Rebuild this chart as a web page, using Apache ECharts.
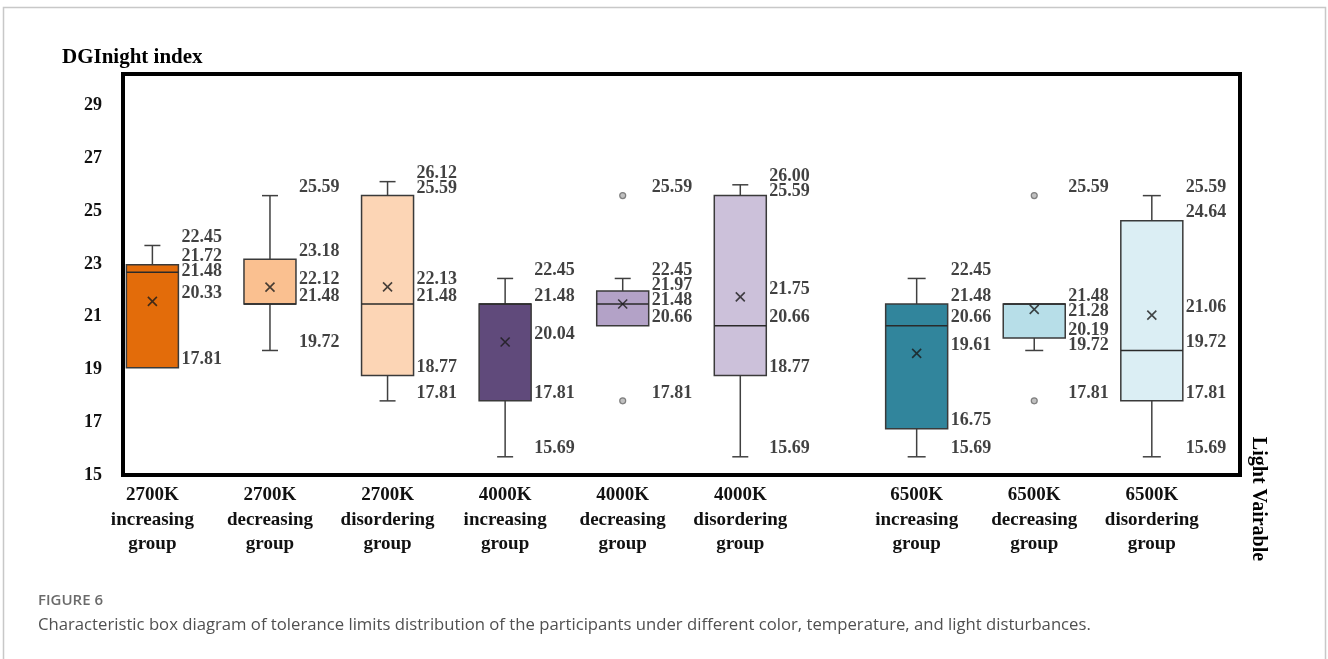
<!DOCTYPE html>
<html>
<head>
<meta charset="utf-8">
<title>DGInight index box diagram</title>
<script src="https://cdn.jsdelivr.net/npm/echarts@6.0.0/dist/echarts.min.js"></script>
<style>
  html, body { margin: 0; padding: 0; background: #fff; }
  #chart { width: 1328px; height: 659px; }
</style>
</head>
<body>
<div id="chart"></div>
<script>
// Groups: colour temperature x sequence order
const colorTemps = ["2700K", "4000K", "6500K"];
const sequences = ["increasing", "decreasing", "disordering"];

// Box statistics as drawn against the y axis
// (the first box is drawn ~1.25 higher than its printed numbers in the source figure)
const boxMin = [19.07, 19.72, 17.81, 15.69, 20.66, 15.69, 15.69, 19.72, 15.69];
const boxQ1 = [19.07, 21.48, 18.77, 17.81, 20.66, 18.77, 16.75, 20.19, 17.81];
const boxMedian = [22.69, 21.48, 21.48, 21.48, 21.48, 20.66, 20.66, 21.48, 19.72];
const boxQ3 = [22.97, 23.18, 25.59, 21.48, 21.97, 25.59, 21.48, 21.48, 24.64];
const boxMax = [23.7, 25.59, 26.12, 22.45, 22.45, 26.0, 22.45, 21.48, 25.59];
const boxMean = [21.58, 22.12, 22.13, 20.04, 21.48, 21.75, 19.61, 21.28, 21.06];
const outliers = [[], [], [], [], [25.59, 17.81], [], [], [25.59, 17.81], []];

// Printed numbers next to each box, top to bottom
const valueLabels = [
  ["22.45", "21.72", "21.48", "20.33", "17.81"],
  ["25.59", "23.18", "22.12", "21.48", "19.72"],
  ["26.12", "25.59", "22.13", "21.48", "18.77", "17.81"],
  ["22.45", "21.48", "20.04", "17.81", "15.69"],
  ["25.59", "22.45", "21.97", "21.48", "20.66", "17.81"],
  ["26.00", "25.59", "21.75", "20.66", "18.77", "15.69"],
  ["22.45", "21.48", "20.66", "19.61", "16.75", "15.69"],
  ["25.59", "21.48", "21.28", "20.19", "19.72", "17.81"],
  ["25.59", "24.64", "21.06", "19.72", "17.81", "15.69"],
];

const boxColors = [
  "#e36c0a", "#fac090", "#fcd5b5",
  "#604a7b", "#b3a2c7", "#ccc1da",
  "#31859c", "#b7dee8", "#dbeef4",
];

const Y_MIN = 15;
const Y_MAX = 30.2;
const GRID = { left: 123, top: 74, right: 88, bottom: 184 };
const GRID_H = 659 - GRID.top - GRID.bottom;
const PX_PER_UNIT = GRID_H / (Y_MAX - Y_MIN);
const SERIF = "'Liberation Serif', 'Times New Roman', serif";

// 19 half-width slots; 6500K groups sit after an empty slot
const SLOT_COUNT = 19;
const slotOf = (i) => 2 * i + (i >= 6 ? 1 : 0);
const boxWidth = (i) => (i >= 6 ? 62 : 52);
const capWidth = (i) => (i >= 6 ? 18 : 16);

const categories = colorTemps.flatMap((t) => sequences.map((s) => `${t}\n${s}\ngroup`));
const slotNames = Array.from({ length: SLOT_COUNT }, () => "");
categories.forEach((c, i) => (slotNames[slotOf(i)] = c));

const boxData = categories.map((_, i) => [slotOf(i), boxMin[i], boxQ1[i], boxMedian[i], boxQ3[i], boxMax[i]]);
const meanData = categories.map((_, i) => [slotOf(i), boxMean[i]]);
const outlierData = outliers.flatMap((list, i) => list.map((v) => [slotOf(i), v]));

// Value labels: anchored at their statistic, lifted a little and spread so they don't collide
const LABEL_LIFT = 8;
const LABEL_GAP = 15;
const labelData = [];
categories.forEach((_, i) => {
  const anchors = [...new Set([boxMax[i], boxQ3[i], boxMedian[i], boxMean[i], boxQ1[i], boxMin[i], ...outliers[i]])]
    .sort((a, b) => b - a);
  let prevY = -Infinity;
  anchors.forEach((v, k) => {
    const anchorY = (Y_MAX - v) * PX_PER_UNIT;
    const y = Math.max(anchorY - LABEL_LIFT, prevY + LABEL_GAP);
    prevY = y;
    labelData.push({
      value: [slotOf(i), v],
      name: valueLabels[i][k],
      label: { distance: boxWidth(i) / 2 + 3, offset: [0, y - anchorY] },
    });
  });
});

function renderBox(params, api) {
  const i = params.dataIndex;
  const slot = api.value(0);
  const [lo, q1, med, q3, hi] = [1, 2, 3, 4, 5].map((d) => api.value(d));
  const x = api.coord([slot, q1])[0];
  const y = (v) => api.coord([slot, v])[1];
  const w = boxWidth(i);
  const c = capWidth(i);
  const lineStyle = { stroke: "#404040", lineWidth: 1.5 };
  const children = [];

  if (hi > q3) {
    children.push({ type: "line", shape: { x1: x, y1: y(hi), x2: x, y2: y(q3) }, style: lineStyle });
    children.push({ type: "line", shape: { x1: x - c / 2, y1: y(hi), x2: x + c / 2, y2: y(hi) }, style: lineStyle });
  }
  if (lo < q1) {
    children.push({ type: "line", shape: { x1: x, y1: y(q1), x2: x, y2: y(lo) }, style: lineStyle });
    children.push({ type: "line", shape: { x1: x - c / 2, y1: y(lo), x2: x + c / 2, y2: y(lo) }, style: lineStyle });
  }
  children.push({
    type: "rect",
    shape: { x: x - w / 2, y: y(q3), width: w, height: y(q1) - y(q3) },
    style: { fill: boxColors[i], stroke: "#3a3a3a", lineWidth: 1.5 },
  });
  children.push({
    type: "line",
    shape: { x1: x - w / 2, y1: y(med), x2: x + w / 2, y2: y(med) },
    style: { stroke: "#2a2a2a", lineWidth: 1.5 },
  });
  return { type: "group", children };
}

const option = {
  animation: false,
  backgroundColor: "#fff",
  title: [
    {
      text: "DGInight index",
      left: 62,
      top: 47,
      padding: 0,
      textStyle: { fontFamily: SERIF, fontWeight: "bold", fontSize: 21, color: "#000" },
    },
    {
      text: "FIGURE 6",
      left: 38,
      top: 593,
      padding: 0,
      textStyle: { fontFamily: "'Open Sans', sans-serif", fontWeight: 600, fontSize: 15, color: "#6b6b6b" },
    },
    {
      text: "Characteristic box diagram of tolerance limits distribution of the participants under different color, temperature, and light disturbances.",
      left: 38,
      top: 617,
      padding: 0,
      textStyle: { fontFamily: "'Open Sans', sans-serif", fontWeight: 400, fontSize: 16.7, color: "#505050" },
    },
  ],
  grid: {
    ...GRID,
    show: true,
    borderColor: "#000",
    borderWidth: 4,
    backgroundColor: "transparent",
  },
  xAxis: {
    type: "category",
    data: slotNames,
    boundaryGap: true,
    axisLine: { show: false },
    axisTick: { show: false },
    splitLine: { show: false },
    axisLabel: {
      interval: 0,
      margin: 8,
      fontFamily: SERIF,
      fontWeight: "bold",
      fontSize: 19,
      lineHeight: 24.5,
      color: "#111",
    },
  },
  yAxis: {
    type: "value",
    min: Y_MIN,
    max: Y_MAX,
    interval: 2,
    axisLine: { show: false },
    axisTick: { show: false },
    splitLine: { show: false },
    axisLabel: {
      margin: 21,
      showMaxLabel: false,
      fontFamily: SERIF,
      fontWeight: "bold",
      fontSize: 18,
      color: "#111",
    },
  },
  series: [
    {
      name: "boxes",
      type: "custom",
      renderItem: renderBox,
      encode: { x: 0, y: [1, 2, 3, 4, 5] },
      data: boxData,
      z: 2,
    },
    {
      name: "mean",
      type: "scatter",
      data: meanData,
      symbol: "path://M0,0L10,10M10,0L0,10",
      symbolSize: 9,
      itemStyle: { color: "none", borderColor: "#1a1a1a", borderWidth: 1.6 },
      z: 3,
    },
    {
      name: "outliers",
      type: "scatter",
      data: outlierData,
      symbol: "circle",
      symbolSize: 6,
      itemStyle: { color: "#b0b0b0", borderColor: "#666", borderWidth: 1.2 },
      z: 3,
    },
    {
      name: "values",
      type: "scatter",
      data: labelData,
      symbolSize: 0,
      silent: true,
      label: {
        show: true,
        position: "right",
        formatter: (p) => p.name,
        fontFamily: SERIF,
        fontWeight: "bold",
        fontSize: 18,
        lineHeight: 15,
        color: "#111",
      },
      z: 4,
    },
  ],
  graphic: [
    {
      type: "rect",
      silent: true,
      z: -10,
      shape: { x: 3.5, y: 7.5, width: 1322, height: 700 },
      style: { fill: "none", stroke: "#c8c8c8", lineWidth: 1.5 },
    },
    {
      type: "text",
      x: 1258,
      y: 499,
      rotation: -Math.PI / 2,
      style: {
        text: "Light Vairable",
        font: `bold 20px ${SERIF}`,
        fill: "#000",
        textAlign: "center",
        textVerticalAlign: "middle",
      },
    },
  ],
};

const chart = echarts.init(document.getElementById("chart"));
chart.setOption(option);
</script>
</body>
</html>
